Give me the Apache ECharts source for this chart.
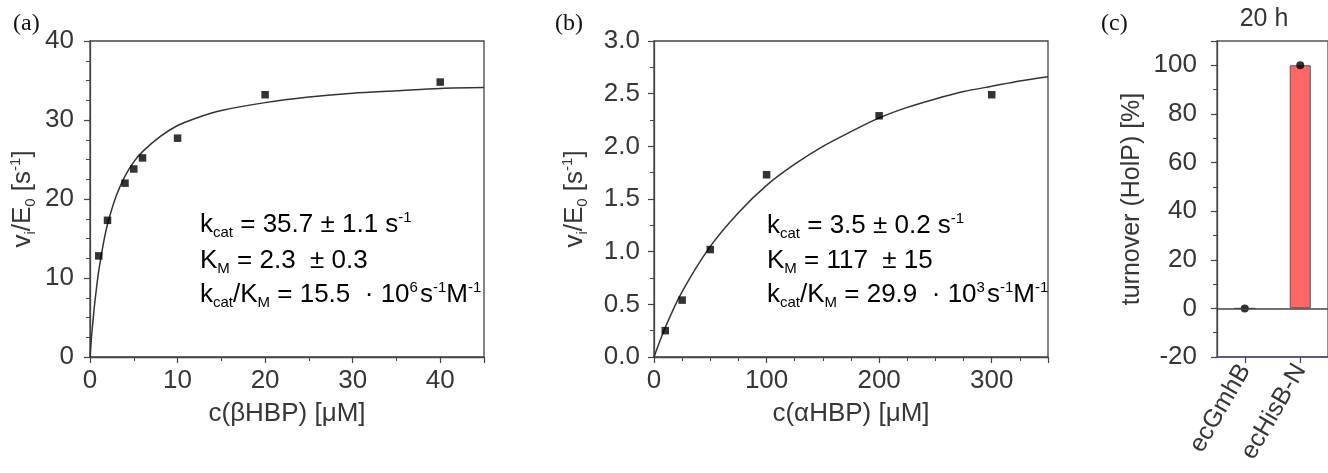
<!DOCTYPE html>
<html>
<head>
<meta charset="utf-8">
<script src="https://cdn.jsdelivr.net/npm/echarts@6/dist/echarts.min.js"></script>
<style>
  html, body { margin: 0; padding: 0; background: #fff; }
  #chart { width: 1328px; height: 473px; }
</style>
</head>
<body>
<div id="chart"></div>
<script>
// ---------- data ----------
// Panel (a): beta-HBP
const concA = [1, 2, 4, 5, 6, 10, 20, 40];
const rateA = [12.8, 17.3, 22.0, 23.8, 25.2, 27.7, 33.2, 34.8];
const fitConcA = [0, 0.1, 0.25, 0.5, 0.75, 1, 1.5, 2, 3, 4, 5, 6, 8, 10, 12, 15, 20, 25, 30, 35, 40, 45];
const fitRateA = [0, 1.5, 3.5, 6.4, 8.8, 10.9, 14.2, 16.8, 20.4, 22.9, 24.7, 26.0, 27.9, 29.3, 30.2, 31.2, 32.2, 32.9, 33.4, 33.7, 34.0, 34.1];

// Panel (b): alpha-HBP
const concB = [10, 25, 50, 100, 200, 300];
const rateB = [0.25, 0.54, 1.02, 1.73, 2.29, 2.49];
const fitConcB = [0, 10, 25, 50, 75, 100, 125, 150, 175, 200, 225, 250, 275, 300, 325, 350];
const fitRateB = [0, 0.28, 0.62, 1.05, 1.37, 1.63, 1.83, 2.0, 2.14, 2.27, 2.37, 2.45, 2.52, 2.57, 2.62, 2.66];

// Panel (c): turnover after 20 h
const enzymes = ['ecGmhB', 'ecHisB-N'];
const turnover = [0, 100];

// ---------- styling helpers ----------
const SANS = '"Liberation Sans", Arial, sans-serif';
const SERIF = '"Liberation Serif", "Times New Roman", serif';
const TXT = '#363636';
const AX = '#444';

function rich(size) {
  const s = Math.round(size * 0.58);
  return {
    t: { fontSize: size, fontFamily: SANS, color: TXT, lineHeight: size + 4 },
    sub: { fontSize: s, fontFamily: SANS, color: TXT, verticalAlign: 'bottom' },
    sup: { fontSize: s, fontFamily: SANS, color: TXT, verticalAlign: 'top' },
    supg: { fontSize: s, fontFamily: SANS, color: TXT, verticalAlign: 'top', padding: [0, 2, 0, 0] }
  };
}

function valueAxis(opts) {
  return Object.assign({
    type: 'value',
    axisLine: { show: true, lineStyle: { color: AX, width: 1.3 } },
    axisTick: { show: true, length: 6, lineStyle: { color: AX, width: 1.2 } },
    splitLine: { show: false },
    nameLocation: 'middle'
  }, opts);
}

const tickFont = { color: TXT, fontSize: 26, fontFamily: SANS };

const grids = [
  { left: 90, top: 41, width: 394, height: 316, show: true, borderColor: AX, borderWidth: 1.3, backgroundColor: 'transparent' },
  { left: 654, top: 41, width: 394, height: 316, show: true, borderColor: AX, borderWidth: 1.3, backgroundColor: 'transparent' },
  { left: 1217, top: 41, width: 116, height: 316, show: true, borderColor: '#555', borderWidth: 1.3, backgroundColor: 'transparent' }
];

const xAxes = [
  valueAxis({
    gridIndex: 0, min: 0, max: 45, interval: 10,
    minorTick: { show: true, splitNumber: 2, length: 4, lineStyle: { color: AX } },
    axisLabel: Object.assign({ margin: 11, showMaxLabel: false }, tickFont),
    name: '{t|c(βHBP) [μM]}', nameGap: 42, nameTextStyle: { rich: rich(26) }
  }),
  valueAxis({
    gridIndex: 1, min: 0, max: 350, interval: 100,
    minorTick: { show: true, splitNumber: 4, length: 4, lineStyle: { color: AX } },
    axisLabel: Object.assign({ margin: 11, showMaxLabel: false }, tickFont),
    name: '{t|c(αHBP) [μM]}', nameGap: 42, nameTextStyle: { rich: rich(26) }
  }),
  {
    type: 'category', gridIndex: 2, data: enzymes, boundaryGap: true,
    axisLine: { show: true, onZero: false, lineStyle: { color: '#4d5282', width: 1.5 } },
    axisTick: { show: true, alignWithLabel: true, length: 6, lineStyle: { color: AX, width: 1.2 } },
    axisLabel: { color: TXT, fontSize: 25, fontFamily: SANS, rotate: 60, margin: 9, interval: 0 },
    splitLine: { show: false }
  }
];

const yAxes = [
  valueAxis({
    gridIndex: 0, min: 0, max: 40, interval: 10,
    minorTick: { show: true, splitNumber: 4, length: 4, lineStyle: { color: AX } },
    axisLabel: Object.assign({ margin: 16 }, tickFont),
    name: '{t|v}{sub|i}{t|/E}{sub|0}{t| [s}{sup|-1}{t|]}', nameRotate: 90, nameGap: 52,
    nameTextStyle: { rich: rich(26) }
  }),
  valueAxis({
    gridIndex: 1, min: 0, max: 3, interval: 0.5,
    minorTick: { show: true, splitNumber: 2, length: 4, lineStyle: { color: AX } },
    axisLabel: Object.assign({ margin: 14, formatter: v => v.toFixed(1) }, tickFont),
    name: '{t|v}{sub|i}{t|/E}{sub|0}{t| [s}{sup|-1}{t|]}', nameRotate: 90, nameGap: 64,
    nameTextStyle: { rich: rich(26) }
  }),
  valueAxis({
    gridIndex: 2, min: -20, max: 110, interval: 20,
    minorTick: { show: true, splitNumber: 2, length: 4, lineStyle: { color: AX } },
    axisLabel: { color: TXT, fontSize: 26, fontFamily: SANS, margin: 20, showMaxLabel: false },
    name: '{t|turnover (HolP) [%]}', nameRotate: 90, nameGap: 70,
    nameTextStyle: { rich: rich(25) }
  })
];

const zip = (a, b) => a.map((v, i) => [v, b[i]]);

const series = [
  {
    type: 'line', xAxisIndex: 0, yAxisIndex: 0, data: zip(fitConcA, fitRateA),
    showSymbol: false, smooth: 0.3,
    lineStyle: { color: '#333', width: 1.5 }, silent: true, z: 2
  },
  {
    type: 'scatter', xAxisIndex: 0, yAxisIndex: 0, data: zip(concA, rateA),
    symbol: 'rect', symbolSize: 7.5, itemStyle: { color: '#000' }, z: 3
  },
  {
    type: 'line', xAxisIndex: 1, yAxisIndex: 1, data: zip(fitConcB, fitRateB),
    showSymbol: false, smooth: 0.3,
    lineStyle: { color: '#333', width: 1.5 }, silent: true, z: 2
  },
  {
    type: 'scatter', xAxisIndex: 1, yAxisIndex: 1, data: zip(concB, rateB),
    symbol: 'rect', symbolSize: 7.5, itemStyle: { color: '#000' }, z: 3
  },
  {
    type: 'bar', xAxisIndex: 2, yAxisIndex: 2, data: turnover, barWidth: 21,
    itemStyle: { color: '#ff6666', borderColor: '#555', borderWidth: 1 },
    markLine: {
      silent: true, symbol: 'none', label: { show: false },
      lineStyle: { color: '#444', width: 1.5, type: 'solid' },
      data: [{ yAxis: 0 }]
    },
    z: 2
  },
  {
    type: 'scatter', xAxisIndex: 2, yAxisIndex: 2, data: turnover,
    symbol: 'circle', symbolSize: 8, itemStyle: { color: '#000' }, z: 4
  }
];

function annot(x, y, text) {
  return {
    type: 'text', x: x, y: y, z: 10,
    style: { text: text, rich: rich(26), align: 'left', verticalAlign: 'middle' }
  };
}

const graphics = [
  { type: 'text', x: 13, y: 24, style: { text: '(a)', font: '24px ' + SERIF, fill: '#111', verticalAlign: 'middle' } },
  { type: 'text', x: 555, y: 24, style: { text: '(b)', font: '24px ' + SERIF, fill: '#111', verticalAlign: 'middle' } },
  { type: 'text', x: 1101, y: 24, style: { text: '(c)', font: '24px ' + SERIF, fill: '#111', verticalAlign: 'middle' } },
  { type: 'text', x: 1264, y: 19, style: { text: '20 h', font: '25px ' + SANS, fill: TXT, align: 'center', verticalAlign: 'middle' } },
  annot(200, 225, '{t|k}{sub|cat}{t| = 35.7 ± 1.1 s}{sup|-1}'),
  annot(200, 261, '{t|K}{sub|M}{t| = 2.3  ± 0.3}'),
  annot(200, 295, '{t|k}{sub|cat}{t|/K}{sub|M}{t| = 15.5  · 10}{supg|6}{t|s}{sup|-1}{t|M}{sup|-1}'),
  annot(767, 226, '{t|k}{sub|cat}{t| = 3.5 ± 0.2 s}{sup|-1}'),
  annot(767, 261, '{t|K}{sub|M}{t| = 117  ± 15}'),
  annot(767, 295, '{t|k}{sub|cat}{t|/K}{sub|M}{t| = 29.9  · 10}{supg|3}{t|s}{sup|-1}{t|M}{sup|-1}')
];

const chart = echarts.init(document.getElementById('chart'), null, { renderer: 'canvas' });
chart.setOption({
  animation: false,
  backgroundColor: '#fff',
  grid: grids,
  xAxis: xAxes,
  yAxis: yAxes,
  series: series,
  graphic: graphics
});
</script>
</body>
</html>
